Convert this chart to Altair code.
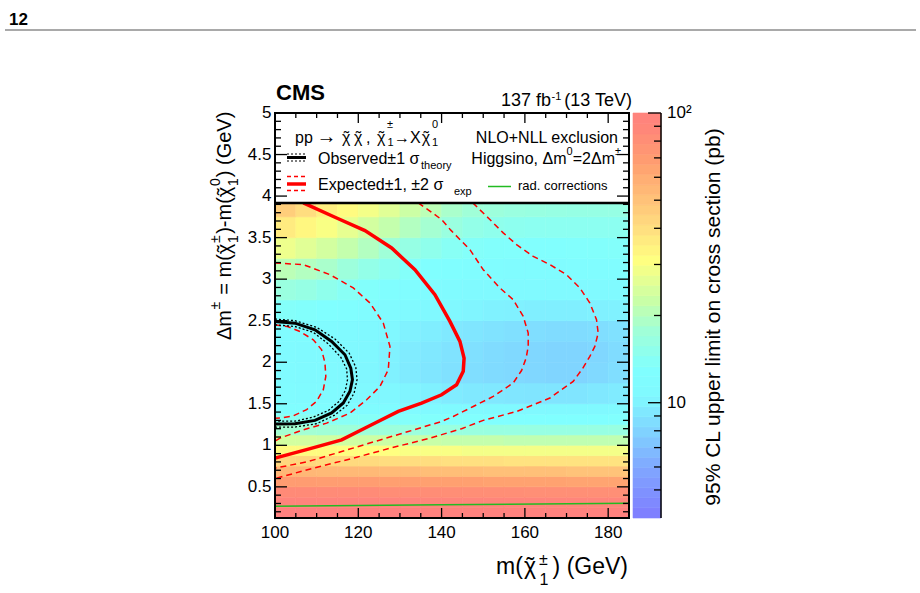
import altair as alt
import pandas as pd

FONT = "Liberation Sans"
W, H = 354, 405

# ---------------- data ----------------
X_DOMAIN = [100, 185]
Y_DOMAIN = [0.125, 5.0]
LIMIT_DOMAIN = [4, 100]
LEGEND_BOX_Y = [3.918, 5.0]

X_EDGES = [100, 105, 110, 115, 120, 125, 130, 135, 140, 145, 150, 155, 160, 165, 170, 175, 180, 185]
Y_EDGES = [0.0, 0.25, 0.375, 0.5, 0.625, 0.75, 0.875, 1.0, 1.125, 1.25, 1.375, 1.5,
           1.75, 2.0, 2.25, 2.5, 2.75, 3.0, 3.25, 3.5, 3.75, 4.0]
# 95% CL upper limit (pb); rows bottom -> top, columns left -> right
LIMIT = [
    [98, 98, 98, 97, 97, 97, 97, 96, 96, 96, 96, 96, 96, 96, 96, 96, 96],
    [92, 92, 92, 91, 91, 91, 91, 90, 90, 90, 90, 90, 89, 89, 89, 89, 89],
    [81, 81, 80, 80, 80, 79, 79, 79, 78, 78, 78, 78, 77, 77, 77, 77, 77],
    [67, 67, 66, 66, 66, 65, 65, 64, 64, 64, 63, 63, 63, 63, 62, 62, 62],
    [53, 53, 52, 52, 52, 51, 51, 50, 50, 50, 49, 49, 49, 49, 48, 48, 48],
    [41, 41, 40, 40, 40, 39, 39, 39, 38, 38, 38, 37, 37, 37, 37, 37, 37],
    [31, 31, 31, 30, 30, 30, 29, 29, 29, 28, 28, 28, 28, 28, 28, 28, 28],
    [23, 23, 22.5, 22.5, 22, 22, 21.5, 21.5, 21, 21, 21, 20.5, 20.5, 20.5, 20.5, 20.5, 20.5],
    [17.5, 17.3, 17.1, 16.9, 16.7, 16.5, 16.3, 16.1, 16, 15.9, 15.8, 15.7, 15.6, 15.6, 15.6, 15.6, 15.7],
    [14, 13.9, 13.7, 13.5, 13.3, 13.1, 12.9, 12.8, 12.7, 12.6, 12.5, 12.5, 12.4, 12.4, 12.4, 12.5, 12.6],
    [12.2, 12, 11.8, 11.6, 11.4, 11.2, 11, 10.8, 10.6, 10.5, 10.4, 10.3, 10.3, 10.3, 10.3, 10.4, 10.6],
    [11.3, 11.1, 10.9, 10.7, 10.4, 10.1, 9.8, 9.5, 9.2, 9.0, 8.9, 8.8, 8.7, 8.7, 8.7, 8.9, 9.1],
    [11, 10.8, 10.5, 10.2, 9.9, 9.5, 9.1, 8.8, 8.5, 8.3, 8.1, 8.0, 7.9, 7.8, 7.8, 8.0, 8.3],
    [11, 10.8, 10.6, 10.3, 10, 9.6, 9.2, 8.9, 8.6, 8.4, 8.2, 8.0, 7.9, 7.8, 7.8, 7.9, 8.2],
    [11.5, 11.3, 11, 10.8, 10.4, 10, 9.6, 9.3, 9, 8.8, 8.6, 8.4, 8.3, 8.2, 8.2, 8.3, 8.5],
    [13, 12.8, 12.4, 12, 11.5, 11, 10.6, 10.3, 10, 9.8, 9.6, 9.5, 9.4, 9.4, 9.4, 9.5, 9.6],
    [16, 15.5, 14.5, 13.5, 12.8, 12.2, 11.8, 11.4, 11, 10.8, 10.6, 10.5, 10.5, 10.5, 10.6, 10.7, 10.8],
    [20, 19, 18, 16.5, 15, 14, 13, 12.5, 12, 11.8, 11.6, 11.5, 11.5, 11.5, 11.6, 11.7, 11.8],
    [27, 25, 23, 21, 19, 17, 15.5, 14.5, 13.5, 13, 12.8, 12.7, 12.6, 12.6, 12.7, 12.8, 12.9],
    [35, 32, 29, 26, 23, 21, 19, 17.5, 16, 15, 14.5, 14.2, 14, 14, 14, 14, 14],
    [44, 39, 34, 31, 28, 25, 22, 20, 18, 17, 16.5, 16, 15.8, 15.6, 15.5, 15.5, 15.5],
]

COLOR_STOPS = [4, 5.8, 7.5, 10, 12.5, 17, 21.5, 30, 38, 49, 64, 83, 100]
COLOR_RANGE = ["#7f80ff", "#80a8ff", "#80d0ff", "#80f8ff", "#80ffff", "#a0ffd8", "#c8ffa8",
               "#ffff80", "#ffe080", "#ffc078", "#ffa070", "#ff8878", "#ff8080"]
# colour bar steps (pb)
CBAR_EDGES = [4.00, 4.34, 4.70, 5.09, 5.52, 5.98, 6.48, 7.02, 7.61, 8.25, 8.94, 9.69, 10.5,
              11.4, 12.3, 13.3, 14.5, 15.7, 17.0, 18.4, 19.9, 21.6, 23.4, 25.4, 27.5, 29.8,
              32.3, 35.0, 37.9, 41.1, 44.5, 48.2, 52.3, 56.6, 61.4, 66.5, 72.1, 78.1, 84.6,
              91.7, 100.0]

# observed contour and +-1 sigma theory
OBS_X = [100, 104.8, 109.6, 113.6, 116.8, 118.2, 118.6, 118.0, 116.4, 113.6, 109.6, 104.8, 100]
OBS_Y = [2.49, 2.47, 2.39, 2.25, 2.09, 1.93, 1.79, 1.65, 1.51, 1.39, 1.30, 1.26, 1.255]
OBS_UP_X = [100, 104.8, 110.0, 114.4, 117.8, 119.4, 119.7, 119.0, 117.3, 114.2, 110.0, 104.8, 100]
OBS_UP_Y = [2.52, 2.50, 2.42, 2.28, 2.11, 1.94, 1.79, 1.63, 1.48, 1.36, 1.26, 1.22, 1.22]
OBS_DN_X = [100, 104.8, 109.2, 112.8, 115.8, 117.2, 117.4, 116.9, 115.4, 112.8, 109.2, 104.8, 100]
OBS_DN_Y = [2.45, 2.43, 2.36, 2.22, 2.06, 1.92, 1.79, 1.66, 1.53, 1.42, 1.34, 1.29, 1.29]

# expected contour and +-1, +-2 sigma experimental
EXP_X = [106.8, 114.4, 121.6, 128.0, 133.6, 138.4, 142.0, 144.4, 145.4, 145.2, 143.6, 140.0,
         135.2, 129.6, 123.2, 116.0, 108.0, 100]
EXP_Y = [3.918, 3.745, 3.584, 3.375, 3.114, 2.813, 2.492, 2.251, 2.05, 1.89, 1.729, 1.608,
         1.508, 1.408, 1.247, 1.066, 0.954, 0.845]
EXP_P2_X = [100, 103.0, 106.0, 109.2, 111.2, 112.0, 112.2, 111.6, 110.0, 107.6, 104.4, 101.2, 100]
EXP_P2_Y = [2.45, 2.43, 2.37, 2.27, 2.15, 1.99, 1.83, 1.67, 1.53, 1.43, 1.355, 1.328, 1.325]
EXP_P1_X = [100, 106.8, 113.2, 118.8, 122.8, 126.0, 127.6, 127.2, 125.2, 122.0, 118.0, 112.4,
            106.8, 101.2, 100]
EXP_P1_Y = [3.195, 3.175, 3.054, 2.894, 2.713, 2.472, 2.19, 1.91, 1.708, 1.548, 1.388, 1.267,
            1.187, 1.087, 1.05]
EXP_M1_X = [134.4, 137.2, 140.0, 142.2, 146.8, 150.0, 154.0, 157.2, 159.6, 160.8, 160.8, 160.3,
            159.2, 157.2, 152.4, 147.6, 142.8, 140.0, 132.0, 124.0, 116.0, 108.0, 100.0]
EXP_M1_Y = [3.918, 3.82, 3.717, 3.59, 3.355, 3.114, 2.894, 2.753, 2.552, 2.352, 2.19, 2.05,
            1.9, 1.75, 1.588, 1.467, 1.347, 1.287, 1.166, 1.046, 0.925, 0.805, 0.725]
EXP_M2_X = [147.5, 151.6, 154.8, 158.0, 162.0, 166.0, 170.0, 173.2, 175.6, 177.2, 177.6, 176.8,
            175.6, 173.8, 171.6, 166.0, 158.0, 150.0, 144.8, 136.8, 128.0, 118.4, 108.8, 100.0]
EXP_M2_Y = [3.918, 3.717, 3.557, 3.416, 3.275, 3.175, 3.054, 2.894, 2.713, 2.512, 2.352, 2.19,
            2.07, 1.92, 1.769, 1.569, 1.407, 1.30, 1.20, 1.08, 0.97, 0.84, 0.72, 0.60]

RAD_X = [100, 140, 185]
RAD_Y = [0.265, 0.283, 0.302]

X_LABELS = [100, 120, 140, 160, 180]
X_LABEL_TEXT = ["100", "120", "140", "160", "180"]
Y_LABELS = [0.5, 1, 1.5, 2, 2.5, 3, 3.5, 4, 4.5, 5]
Y_LABEL_TEXT = ["0.5", "1", "1.5", "2", "2.5", "3", "3.5", "4", "4.5", "5"]
X_MAJOR_TICKS = [120, 140, 160, 180]
X_MINOR_TICKS = [105, 110, 115, 125, 130, 135, 145, 150, 155, 165, 170, 175]
Y_MAJOR_TICKS = [0.5, 1, 1.5, 2, 2.5, 3, 3.5, 4, 4.5]
Y_MINOR_TICKS = [0.2, 0.3, 0.4, 0.6, 0.7, 0.8, 0.9, 1.1, 1.2, 1.3, 1.4, 1.6, 1.7, 1.8, 1.9,
                 2.1, 2.2, 2.3, 2.4, 2.6, 2.7, 2.8, 2.9, 3.1, 3.2, 3.3, 3.4, 3.6, 3.7, 3.8, 3.9,
                 4.1, 4.2, 4.3, 4.4, 4.6, 4.7, 4.8, 4.9]
Z_LABELS = [10, 100]
Z_LABEL_TEXT = ["10", "10²"]
Z_MAJOR_TICKS = [10, 100]
Z_MINOR_TICKS = [5, 6, 7, 8, 9, 20, 30, 40, 50, 60, 70, 80, 90]

# texts: (text, x px, y px, font size, angle) relative to plot origin
LEFT_TEXTS = [
    ("pp", 20, 30, 16, 0), ("→", 41.5, 30, 20, 0),
    ("χ", 67, 30, 16, 0), ("χ", 79, 30, 16, 0), (",", 91, 30, 16, 0),
    ("χ", 102, 30, 16, 0), ("±", 112, 15, 11, 0), ("1", 112.5, 33, 11, 0),
    ("→X", 119, 30, 16, 0), ("χ", 146.7, 30, 16, 0), ("0", 157, 15, 11, 0), ("1", 157, 33, 11, 0),
    ("Observed±1 σ", 43, 50.5, 16, 0), ("theory", 146, 55.5, 11, 0),
    ("Expected±1, ±2 σ", 43, 77, 16, 0), ("exp", 179, 82, 11, 0),
    ("rad. corrections", 243, 77, 13, 0),
    ("-1", 276.5, -13, 11, 0),
    ("m(", 221, 460.5, 23, 0), ("χ", 249, 460.5, 23, 0),
    ("±", 264, 452, 16, 0), ("1", 264.5, 472, 16, 0),
    ("Δm", -44, 227, 20, 270), ("±", -55, 196.5, 14, 270), ("= m(", -44, 181.7, 20, 270),
    ("χ", -44, 141.2, 20, 270), ("±", -55, 130, 14, 270), ("1", -37, 130, 14, 270),
    (")-m(", -44, 120.8, 20, 270), ("χ", -44, 84.2, 20, 270), ("0", -55, 73, 14, 270),
    ("1", -37, 73, 14, 270), (") (GeV)", -44, 64.2, 20, 270),
]
RIGHT_TEXTS = [
    ("NLO+NLL exclusion", 343, 30, 16, 0),
    ("±", 346, 42, 11, 0), ("=2Δm", 340, 50.5, 16, 0), ("0", 297.5, 42, 11, 0),
    ("Higgsino, Δm", 291.5, 50.5, 16, 0),
    ("(13 TeV)", 357, -7, 18, 0), ("137 fb", 276, -7, 18, 0),
    (") (GeV)", 353, 460.5, 23, 0),
]
CENTER_TEXTS = [
    ("95% CL upper limit on cross section (pb)", 445, 204, 21, 270),
    ("˜", 71.4, 30, 16, 0), ("˜", 83.4, 30, 16, 0), ("˜", 106.4, 30, 16, 0), ("˜", 151.1, 30, 16, 0),
    ("˜", 255.3, 460.5, 23, 0), ("˜", -44, 135.7, 20, 270), ("˜", -44, 78.7, 20, 270),
]
BOLD_TEXTS = [("CMS", 1, -13, 22, 0), ("12", -266, -88, 17, 0)]

# ---------------- build ----------------
heat_rows = []
for j in range(len(Y_EDGES) - 1):
    for i in range(len(X_EDGES) - 1):
        heat_rows.append({"x0": X_EDGES[i], "x1": X_EDGES[i + 1],
                          "y0": Y_EDGES[j], "y1": Y_EDGES[j + 1], "v": LIMIT[j][i]})
heat_df = pd.DataFrame(heat_rows)
cbar_df = pd.DataFrame({"a": CBAR_EDGES[:-1], "b": CBAR_EDGES[1:]})


def curves(*pairs):
    frames = []
    for k, (xx, yy) in enumerate(pairs):
        frames.append(pd.DataFrame({"x": xx, "y": yy, "c": f"c{k}", "i": list(range(len(xx)))}))
    return pd.concat(frames, ignore_index=True)


xs = alt.Scale(domain=X_DOMAIN, nice=False, zero=False)
ys = alt.Scale(domain=Y_DOMAIN, nice=False, zero=False)
cs = alt.Scale(type="log", domain=COLOR_STOPS, range=COLOR_RANGE, interpolate="rgb")
zs = alt.Scale(type="log", domain=LIMIT_DOMAIN, nice=False)

one = pd.DataFrame({"k": [0]})

heat = alt.Chart(heat_df).mark_rect(clip=True, strokeWidth=0.6).encode(
    x=alt.X("x0:Q", scale=xs, axis=None),
    x2="x1:Q",
    y=alt.Y("y0:Q", scale=ys, axis=None),
    y2="y1:Q",
    color=alt.Color("v:Q", scale=cs, legend=None),
    stroke=alt.Stroke("v:Q", scale=cs, legend=None),
)


def line_layer(df, color, width, dash=None):
    if dash:
        m = alt.Chart(df).mark_line(color=color, strokeWidth=width, strokeDash=dash)
    else:
        m = alt.Chart(df).mark_line(color=color, strokeWidth=width)
    return m.encode(x=alt.X("x:Q", scale=xs, axis=None), y=alt.Y("y:Q", scale=ys, axis=None),
                    detail="c:N", order="i:Q")


green = line_layer(curves((RAD_X, RAD_Y)), "#22bb22", 1.5)
red_dash = line_layer(curves((EXP_P2_X, EXP_P2_Y), (EXP_P1_X, EXP_P1_Y),
                             (EXP_M1_X, EXP_M1_Y), (EXP_M2_X, EXP_M2_Y)), "#ff0000", 1.5, [6, 4])
red_solid = line_layer(curves((EXP_X, EXP_Y)), "#ff0000", 3.5)
black_dot = line_layer(curves((OBS_UP_X, OBS_UP_Y), (OBS_DN_X, OBS_DN_Y)), "black", 1.3, [2, 2])
black_solid = line_layer(curves((OBS_X, OBS_Y)), "black", 3)

box_df = pd.DataFrame({"a": [LEGEND_BOX_Y[0]], "b": [LEGEND_BOX_Y[1]]})
box = alt.Chart(box_df).mark_rect(fill="white").encode(
    x=alt.value(0), x2=alt.value(W), y=alt.Y("a:Q", scale=ys, axis=None), y2="b:Q")
box_line = alt.Chart(box_df).mark_rule(color="black", strokeWidth=2.5).encode(
    x=alt.value(0), x2=alt.value(W), y=alt.Y("a:Q", scale=ys, axis=None))


def ytick(vals, x0, x1):
    return alt.Chart(pd.DataFrame({"v": vals})).mark_rule(color="black", strokeWidth=1.3).encode(
        y=alt.Y("v:Q", scale=ys, axis=None), x=alt.value(x0), x2=alt.value(x1))


def xtick(vals, y0, y1):
    return alt.Chart(pd.DataFrame({"v": vals})).mark_rule(color="black", strokeWidth=1.3).encode(
        x=alt.X("v:Q", scale=xs, axis=None), y=alt.value(y0), y2=alt.value(y1))


ticks = [
    ytick(Y_MAJOR_TICKS, 0, 12), ytick(Y_MINOR_TICKS, 0, 6),
    ytick(Y_MAJOR_TICKS, W, W - 12), ytick(Y_MINOR_TICKS, W, W - 6),
    xtick(X_MAJOR_TICKS, H, H - 10), xtick(X_MINOR_TICKS, H, H - 5),
    xtick(X_MAJOR_TICKS, 0, 10), xtick(X_MINOR_TICKS, 0, 5),
]

x_labels = alt.Chart(pd.DataFrame({"v": X_LABELS, "t": X_LABEL_TEXT})).mark_text(
    align="center", baseline="alphabetic", font=FONT, fontSize=17, color="black").encode(
    x=alt.X("v:Q", scale=xs, axis=None), y=alt.value(425.3), text="t:N")
y_labels = alt.Chart(pd.DataFrame({"v": Y_LABELS, "t": Y_LABEL_TEXT})).mark_text(
    align="right", baseline="middle", font=FONT, fontSize=17, color="black").encode(
    y=alt.Y("v:Q", scale=ys, axis=None), x=alt.value(-3.5), text="t:N")

frame = alt.Chart(one).mark_rect(filled=False, stroke="black", strokeWidth=2).encode(
    x=alt.value(0), x2=alt.value(W), y=alt.value(0), y2=alt.value(H))


def sym(x0, x1, yy, color, width, dash=None):
    if dash:
        m = alt.Chart(one).mark_rule(color=color, strokeWidth=width, strokeDash=dash)
    else:
        m = alt.Chart(one).mark_rule(color=color, strokeWidth=width)
    return m.encode(x=alt.value(x0), x2=alt.value(x1), y=alt.value(yy))


symbols = [
    sym(12, 31, 41, "black", 1.2, [2, 2]), sym(12, 31, 44.5, "black", 3),
    sym(12, 31, 48, "black", 1.2, [2, 2]),
    sym(12, 31, 63.5, "#ff0000", 1.5, [4, 3]), sym(12, 31, 71, "#ff0000", 3.5),
    sym(12, 31, 77.5, "#ff0000", 1.5, [4, 3]),
    sym(213, 236, 73.5, "#22bb22", 1.5),
    sym(-270, 641, -83, "#555555", 1.2),
]


def text_layer(rows, align, weight="normal"):
    df = pd.DataFrame(rows, columns=["t", "px", "py", "fs", "ang"])
    return alt.Chart(df).mark_text(align=align, baseline="alphabetic", font=FONT,
                                   fontWeight=weight, color="black").encode(
        x=alt.X("px:Q", scale=None, axis=None),
        y=alt.Y("py:Q", scale=None, axis=None),
        text="t:N",
        size=alt.Size("fs:Q", scale=None, legend=None),
        angle=alt.Angle("ang:Q", scale=None, legend=None),
    )


texts = [text_layer(LEFT_TEXTS, "left"), text_layer(RIGHT_TEXTS, "right"),
         text_layer(CENTER_TEXTS, "center"), text_layer(BOLD_TEXTS, "left", "bold")]

main = alt.layer(heat, green, red_dash, red_solid, black_dot, black_solid, box, box_line,
                 *ticks, frame, x_labels, y_labels, *symbols, *texts)

cbar = alt.Chart(cbar_df).mark_rect(strokeWidth=0.6).encode(
    y=alt.Y("a:Q", scale=zs, axis=None), y2="b:Q",
    x=alt.value(358), x2=alt.value(386),
    color=alt.Color("a:Q", scale=cs, legend=None),
    stroke=alt.Stroke("a:Q", scale=cs, legend=None),
)
cbar_edge = alt.Chart(one).mark_rule(color="black", strokeWidth=1.5).encode(
    x=alt.value(386), y=alt.value(0), y2=alt.value(H))
cb_major = alt.Chart(pd.DataFrame({"z": Z_MAJOR_TICKS})).mark_rule(color="black", strokeWidth=1.3).encode(
    y=alt.Y("z:Q", scale=zs, axis=None), x=alt.value(386 - 13), x2=alt.value(386))
cb_minor = alt.Chart(pd.DataFrame({"z": Z_MINOR_TICKS})).mark_rule(color="black", strokeWidth=1.3).encode(
    y=alt.Y("z:Q", scale=zs, axis=None), x=alt.value(386 - 7), x2=alt.value(386))
cb_labels = alt.Chart(pd.DataFrame({"z": Z_LABELS, "t": Z_LABEL_TEXT})).mark_text(
    align="left", baseline="middle", font=FONT, fontSize=17, color="black").encode(
    y=alt.Y("z:Q", scale=zs, axis=None), x=alt.value(392), text="t:N")
cb = alt.layer(cbar, cbar_edge, cb_major, cb_minor, cb_labels)

chart = alt.layer(main, cb).resolve_scale(y="independent").properties(
    width=W, height=H,
    autosize=alt.AutoSizeParams(type="none"),
    padding={"left": 275, "top": 113, "right": 291, "bottom": 75},
    background="white",
).configure_view(strokeWidth=0)

chart.save("out.html", embed_options={"renderer": "svg", "actions": False})
